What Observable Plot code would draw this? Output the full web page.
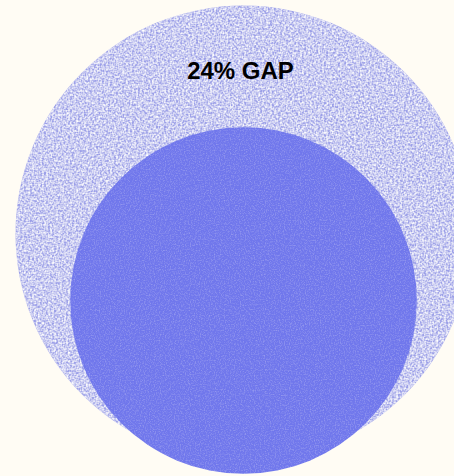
<!DOCTYPE html>
<html>
<head>
<meta charset="utf-8">
<script src="https://cdn.jsdelivr.net/npm/d3@7"></script>
<script src="https://cdn.jsdelivr.net/npm/@observablehq/plot@0.6"></script>
<style>
  html, body { margin: 0; padding: 0; background: #fffcf4; }
  #chart { width: 454px; height: 476px; overflow: hidden; }
</style>
</head>
<body>
<div id="chart"></div>
<script>
// Two nested circles: the reference amount and the achieved share of it.
const categories = ["Benchmark", "Actual"];
const values = [100, 76];
const colors = ["#9ca0e8", "#6f77ec"];

const gap = values[0] - values[1];
const gapLabel = `${gap}% GAP`;

// The inner circle sinks below the outer one's centre by slightly more than the gap,
// so it pokes out under the outer rim.
const sink = 1.23;
const rows = categories.map((name, i) => ({
  name,
  value: values[i],
  x: 0,
  y: i === 0 ? 0 : gap * sink
}));

const plot = Plot.plot({
  width: 454,
  height: 476,
  margin: 0,
  style: { background: "#fffcf4", overflow: "hidden" },
  x: { domain: [-1, 1], range: [32, 454], axis: null },
  y: { domain: [-102.6, 107.0], range: [0, 476], axis: null },
  r: { type: "linear", domain: [0, 100], range: [0, 228] },
  marks: [
    Plot.dot(rows.slice(0, 1), { x: "x", y: "y", r: "value", fill: colors[0], stroke: "none" }),
    Plot.dot(rows.slice(1), { x: "x", y: "y", r: "value", fill: colors[1], stroke: "none" }),
    Plot.text([{ x: 0, y: -values[0] * 0.72, label: gapLabel }], {
      x: "x", y: "y", text: "label", dx: -3, dy: 1,
      fontSize: 24, fontWeight: "bold",
      fontFamily: "Liberation Sans, Arial, sans-serif",
      fill: "#000"
    })
  ]
});

// Grain textures: speckle on the outer circle, faint on the inner one.
const svg = d3.select(plot);
const defs = svg.insert("defs", ":first-child");
function grain(id, freq, octaves, a, b, seed) {
  const f = defs.append("filter").attr("id", id)
    .attr("x", "-5%").attr("y", "-5%").attr("width", "110%").attr("height", "110%");
  f.append("feTurbulence").attr("type", "fractalNoise")
    .attr("baseFrequency", freq).attr("numOctaves", octaves).attr("seed", seed).attr("result", "n");
  f.append("feColorMatrix").attr("in", "n").attr("type", "matrix")
    .attr("values", `0 0 0 0 1  0 0 0 0 1  0 0 0 0 1  0 0 0 ${a} ${b}`).attr("result", "w");
  f.append("feComposite").attr("in", "w").attr("in2", "SourceGraphic")
    .attr("operator", "in").attr("result", "wm");
  const m = f.append("feMerge");
  m.append("feMergeNode").attr("in", "SourceGraphic");
  m.append("feMergeNode").attr("in", "wm");
}
grain("grain-outer", 0.5, 3, -1.8, 1.3, 4);
grain("grain-inner", 0.8, 2, -0.4, 0.22, 9);

const dots = plot.querySelectorAll('g[aria-label="dot"]');
dots[0].setAttribute("filter", "url(#grain-outer)");
dots[1].setAttribute("filter", "url(#grain-inner)");

document.getElementById("chart").appendChild(plot);
</script>
</body>
</html>
